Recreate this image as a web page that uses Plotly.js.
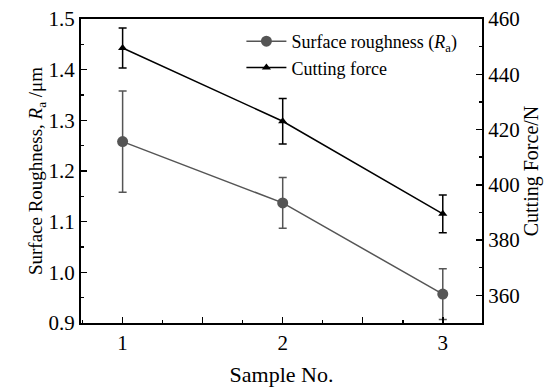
<!DOCTYPE html>
<html><head><meta charset="utf-8">
<script src="https://cdn.plot.ly/plotly-3.0.1.min.js"></script>
<style>html,body{margin:0;padding:0;background:#fff}#c{width:557px;height:387px}</style>
</head><body><div id="c"></div>
<script>
var samples = [1, 2, 3];
var roughness = [1.258, 1.137, 0.957];
var roughnessErr = [0.10, 0.05, 0.05];
var force = [449.5, 423, 389.5];
var forceErr = [7.2, 8.2, 6.8];
var xTickVals = [1, 1.5, 2, 2.5, 3];
var xTickText = ['1', '', '2', '', '3'];

var font = '"Liberation Serif", "Times New Roman", Times, serif';
var traces = [
  {x: samples, y: roughness, type: 'scatter', mode: 'lines+markers',
   name: 'Surface roughness (<i>R</i><sub>a</sub>)',
   line: {color: '#555555', width: 1.5},
   marker: {symbol: 'circle', size: 11, color: '#555555'},
   error_y: {type: 'data', array: roughnessErr, visible: true, color: '#555555', thickness: 1.5, width: 4},
   xaxis: 'x', yaxis: 'y'},
  {x: samples, y: force, type: 'scatter', mode: 'lines+markers',
   name: 'Cutting force',
   line: {color: '#000000', width: 1.5},
   marker: {symbol: 'triangle-up', size: 8, color: '#000000'},
   error_y: {type: 'data', array: forceErr, visible: true, color: '#000000', thickness: 1.5, width: 4},
   xaxis: 'x', yaxis: 'y2'}
];
var layout = {
  width: 557, height: 387,
  margin: {l: 81, r: 75, t: 19, b: 64},
  paper_bgcolor: '#fff', plot_bgcolor: '#fff',
  font: {family: font, color: '#000', size: 18},
  showlegend: true,
  legend: {x: 0.40, y: 0.987, xanchor: 'left', yanchor: 'top', bgcolor: 'rgba(0,0,0,0)',
           font: {family: font, size: 18}, tracegroupgap: 0, itemwidth: 40},
  xaxis: {range: [0.74, 3.245], tickmode: 'array', tickvals: xTickVals, ticktext: xTickText,
          ticks: 'inside', ticklen: 6, tickwidth: 1.5, tickcolor: '#000',
          minor: {tickmode: 'linear', tick0: 0, dtick: 0.25, ticks: 'inside', ticklen: 3, tickwidth: 1.5, tickcolor: '#000'},
          showline: true, linecolor: '#000', linewidth: 2, mirror: true, showgrid: false, zeroline: false,
          tickfont: {family: font, size: 21},
          title: {text: 'Sample No.', font: {family: font, size: 22}, standoff: 14}},
  yaxis: {range: [0.9, 1.5], dtick: 0.1, tick0: 0.9, tickformat: '.1f',
          ticks: 'inside', ticklen: 6, tickwidth: 1.5, tickcolor: '#000',
          minor: {dtick: 0.05, ticks: 'inside', ticklen: 3, tickwidth: 1.5, tickcolor: '#000'},
          showline: true, linecolor: '#000', linewidth: 2, showgrid: false, zeroline: false,
          tickfont: {family: font, size: 21},
          title: {text: 'Surface Roughness, <i>R</i><sub>a</sub> /μm', font: {family: font, size: 19}, standoff: 0}},
  yaxis2: {overlaying: 'y', side: 'right', range: [350, 460], dtick: 20, tick0: 360,
          ticks: 'inside', ticklen: 6, tickwidth: 1.5, tickcolor: '#000',
          minor: {dtick: 10, ticks: 'inside', ticklen: 3, tickwidth: 1.5, tickcolor: '#000'},
          showline: true, linecolor: '#000', linewidth: 2, showgrid: false, zeroline: false,
          tickfont: {family: font, size: 21},
          title: {text: 'Cutting Force/N', font: {family: font, size: 20}, standoff: 4}}
};
Plotly.newPlot('c', traces, layout, {displayModeBar: false, staticPlot: true});
</script></body></html>
